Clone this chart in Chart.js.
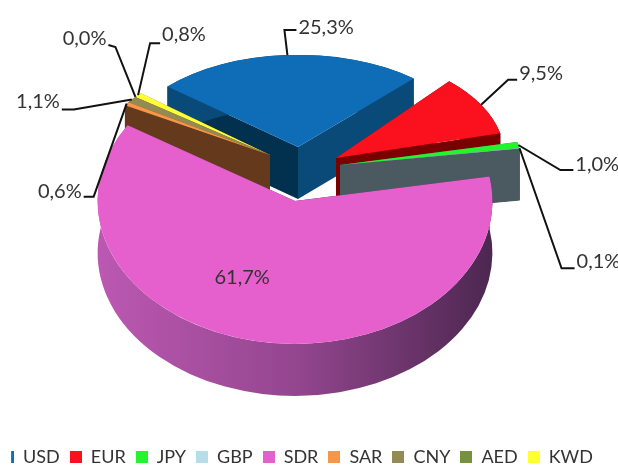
<!DOCTYPE html>
<html><head><meta charset="utf-8">
<style>html,body{margin:0;padding:0;background:#fff}canvas{display:block}</style>
<script src="https://cdn.jsdelivr.net/npm/chart.js@4"></script>
</head><body><canvas id="c" width="618" height="466"></canvas>
<script>
const categories = ['USD','EUR','JPY','GBP','SDR','SAR','CNY','AED','KWD'];
const shares = [25.3,9.5,1.0,0.1,61.7,0.6,1.1,0.0,0.8];

const topColors = ['#0F6DB8','#FB101E','#22F52C','#B7DDE8','#E560CD','#F79646','#948A54','#76923C','#FFFF33'];
const startWalls = ['#02304F','#7A0000','#4A5A60','#4A5A60','#4A2A50','#653A1C','#6A6238','#5A6E2C','#B0B020'];
const endWalls   = ['#0A4A78','#7A0000','#4A5A60','#4A5A60','#7A3A78','#653A1C','#653A1C','#5A6E2C','#6A6238'];
const rimWalls   = ['#0A4A78','#7A0000','#4A5A60','#4A5A60','#8A4288','#653A1C','#6A6238','#5A6E2C','#B0B020'];
// per-slice explosion (screen px from the pie centre) and perspective foreshortening
const shiftX = [0,38,42,42,-3,-28,-28,-28,-28];
const shiftY = [-41,-30,-23,-23,13,-33,-33,-33,-33];
const scaleX = [0.92,0.90,0.97,0.97,1.05,0.91,0.91,0.91,0.91];
const scaleY = [0.49,0.55,0.51,0.51,0.76,0.50,0.50,0.50,0.50];
const leaders = [
  [[-3,-25],[12,0]],[[27,-25],[9,0]],[[42,25],[13,0]],[[42,120],[13,0]],
  null,[[-33,93],[-10,0]],[[-58,10],[-12,0]],[[-20,-50],[-7,-2]],[[12,-52],[10,0]]
];
const labelLift = [3,6,5,7,0,5,8,6,9];

const DEPTH = 52, CX = 298, CY = 188;

function place(ctx, arc, i){
  ctx.translate(CX+shiftX[i],CY+shiftY[i]); ctx.scale(scaleX[i],scaleY[i]); ctx.translate(-arc.x,-arc.y);
}
function rimPoint(arc,i){
  const m=(arc.startAngle+arc.endAngle)/2, R=arc.outerRadius;
  return [CX+shiftX[i]+scaleX[i]*R*Math.cos(m), CY+shiftY[i]+scaleY[i]*R*Math.sin(m)];
}
function drawWalls(ctx, arc, i){
  const a0=arc.startAngle,a1=arc.endAngle,R=arc.outerRadius;
  const ox=arc.x, oy=arc.y, d=DEPTH/scaleY[i];
  ctx.save(); place(ctx,arc,i);
  [[a0,startWalls[i]],[a1,endWalls[i]]].forEach(([a,col])=>{
    const px=ox+R*Math.cos(a), py=oy+R*Math.sin(a);
    ctx.beginPath(); ctx.moveTo(ox,oy); ctx.lineTo(px,py); ctx.lineTo(px,py+d); ctx.lineTo(ox,oy+d); ctx.closePath();
    ctx.fillStyle=col; ctx.fill();
  });
  let fill=rimWalls[i];
  if(categories[i]==='SDR'){
    const g=ctx.createLinearGradient(ox-R,0,ox+R,0);
    g.addColorStop(0,'#BC58B2'); g.addColorStop(0.5,'#94468F'); g.addColorStop(1,'#4C2750');
    fill=g;
  }
  ctx.beginPath(); ctx.arc(ox,oy,R,a0,a1); ctx.arc(ox,oy+d,R,a1,a0,true); ctx.closePath();
  ctx.fillStyle=fill; ctx.fill();
  ctx.restore();
}
const pie3d = {
  id:'pie3d',
  afterLayout(chart){ chart.legend.top += 10; chart.legend.left -= 23; },
  beforeDatasetDraw(chart,args){
    const ctx=chart.ctx, arcs=args.meta.data;
    const order=arcs.map((a,i)=>i).sort((p,q)=>Math.sin((arcs[p].startAngle+arcs[p].endAngle)/2)-Math.sin((arcs[q].startAngle+arcs[q].endAngle)/2));
    order.forEach(i=>drawWalls(ctx,arcs[i],i));
    order.forEach(i=>{ctx.save();place(ctx,arcs[i],i);arcs[i].draw(ctx);ctx.restore();});
    return false;
  },
  afterDatasetsDraw(chart){
    const ctx=chart.ctx, arcs=chart.getDatasetMeta(0).data;
    ctx.save();
    ctx.font='20px Lato'; ctx.fillStyle='#333'; ctx.strokeStyle='#111'; ctx.lineWidth=2; ctx.textBaseline='middle';
    arcs.forEach((arc,i)=>{
      const label=shares[i].toFixed(1).replace('.',',')+'%';
      const [x,y]=rimPoint(arc,i);
      if(!leaders[i]){ ctx.textAlign='center'; ctx.fillText(label,x-15,y-64); return; }
      const [[ex,ey],[tx,ty]]=leaders[i];
      ctx.beginPath(); ctx.moveTo(x,y); ctx.lineTo(x+ex,y+ey); ctx.lineTo(x+ex+tx,y+ey+ty); ctx.stroke();
      ctx.textAlign=tx<0?'right':'left';
      ctx.fillText(label,x+ex+tx+(tx<0?-2:2),y+ey+ty-labelLift[i]);
    });
    ctx.restore();
  }
};
function swatch(color,clip){
  const c=document.createElement('canvas'); c.width=12; c.height=12;
  const g=c.getContext('2d'); g.fillStyle=color;
  if(clip) g.fillRect(9,0,3,12); else g.fillRect(0,0,12,12);
  return c;
}
new Chart(document.getElementById('c'),{
  type:'pie',
  data:{labels:categories,datasets:[{data:shares,backgroundColor:topColors,borderWidth:0}]},
  plugins:[pie3d],
  options:{
    responsive:false,animation:false,rotation:-49,radius:188,
    plugins:{
      tooltip:{enabled:false},
      legend:{position:'bottom',labels:{
        usePointStyle:true,pointStyleWidth:12,boxHeight:12,padding:10,color:'#333',
        font:{family:'Lato',size:18},
        generateLabels:()=>categories.map((t,i)=>({text:t,pointStyle:swatch(topColors[i],i===0),fontColor:'#333',hidden:false,index:i,datasetIndex:0}))
      }}
    }
  }
});
</script></body></html>
